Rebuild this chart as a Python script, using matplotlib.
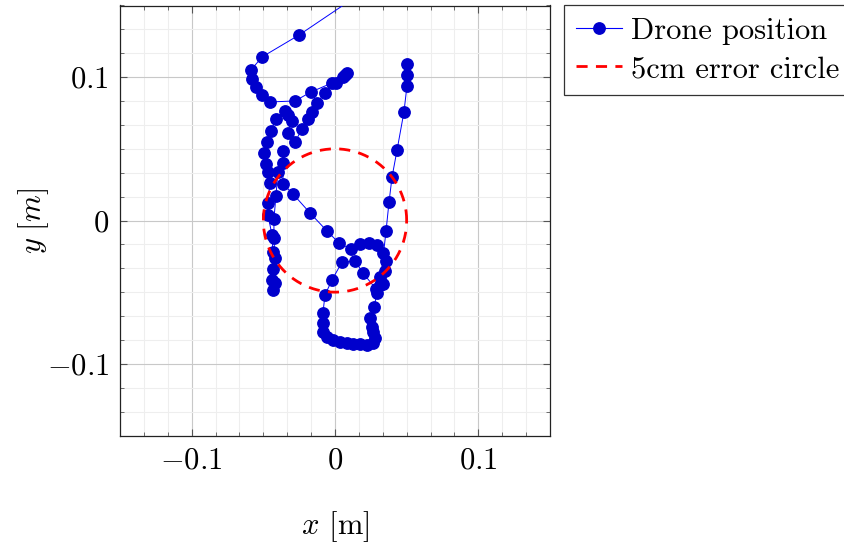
import numpy as np
import matplotlib
matplotlib.use("Agg")
import matplotlib.pyplot as plt
from matplotlib.ticker import MultipleLocator, FixedLocator
from matplotlib.lines import Line2D

plt.rcParams['mathtext.fontset'] = 'cm'
plt.rcParams['font.family'] = 'serif'
plt.rcParams['font.serif'] = ['cmr10', 'DejaVu Serif']
plt.rcParams['axes.formatter.use_mathtext'] = True

# Drone trajectory (m)
x_pos = [0.050, -0.0251, -0.0509, -0.0586, -0.0579, -0.0551, -0.0509, -0.0454, -0.0279, -0.0167,
         -0.0021, 0.0007, 0.0056, 0.0070, 0.0084,
         -0.0070, -0.0126, -0.0160, -0.0188, -0.0230, -0.0279, -0.0328, -0.0300, -0.0328, -0.0349,
         -0.0412, -0.0447, -0.0474, -0.0495, -0.0481, -0.0467, -0.0454, -0.0467, -0.0467, -0.0440,
         -0.0433, -0.0433, -0.0440, -0.0433,
         -0.0419, -0.0419, -0.0426, -0.0426, -0.0412, -0.0398, -0.0363, -0.0363, -0.0363,
         -0.0293, -0.0174, -0.0056, 0.0028, 0.0112, 0.0174, 0.0237, 0.0293, 0.0335, 0.0356,
         0.0349, 0.0314, 0.0335, 0.0286, 0.0195, 0.0140, 0.0049, -0.0021, -0.0070, -0.0084,
         -0.0084, -0.0084, -0.0056, -0.0014, 0.0035, 0.0084, 0.0126, 0.0174, 0.0223, 0.0265,
         0.0279, 0.0265, 0.0258, 0.0244, 0.0272, 0.0293, 0.0314, 0.0356, 0.0377, 0.0398,
         0.0433, 0.0481, 0.0502, 0.0502, 0.0502]
y_pos = [0.180, 0.1294, 0.1141, 0.1050, 0.0987, 0.0931, 0.0876, 0.0827, 0.0834, 0.0897,
         0.0959, 0.0959, 0.1001, 0.1015, 0.1029,
         0.0890, 0.0820, 0.0757, 0.0708, 0.0638, 0.0548, 0.0610, 0.0694, 0.0736, 0.0764,
         0.0708, 0.0624, 0.0548, 0.0471, 0.0394, 0.0338, 0.0262, 0.0122, 0.0038, -0.0101,
         -0.0220, -0.0338, -0.0415, -0.0485,
         -0.0436, -0.0262, -0.0122, 0.0010, 0.0171, 0.0338, 0.0401, 0.0485, 0.0255,
         0.0185, 0.0052, -0.0073, -0.0157, -0.0199, -0.0164, -0.0157, -0.0171, -0.0227, -0.0283,
         -0.0352, -0.0394, -0.0443, -0.0478, -0.0366, -0.0283, -0.0290, -0.0415, -0.0520, -0.0645,
         -0.0715, -0.0778, -0.0813, -0.0834, -0.0848, -0.0855, -0.0862, -0.0862, -0.0869, -0.0855,
         -0.0820, -0.0778, -0.0743, -0.0680, -0.0604, -0.0506, -0.0450, -0.0073, 0.0129, 0.0304,
         0.0492, 0.0757, 0.0938, 0.1015, 0.1092]

circle_radius = 0.05
x_ticks = [-0.1, 0.0, 0.1]
y_ticks = [-0.1, 0.0, 0.1]
tick_labels = ['$-0.1$', '$0$', '$0.1$']
legend_labels = ['Drone position', '5cm error circle']

FS = 22
fig = plt.figure(figsize=(8.44, 5.47), dpi=100)
ax = fig.add_axes([120/844, 1-435.5/547, 430/844, 430/547])

theta = np.linspace(0, 2*np.pi, 400)
ax.plot(x_pos, y_pos, '-', color='blue', lw=0.7, marker='o', markersize=8.2,
        markerfacecolor='#0000cc', markeredgecolor='#0000cc', zorder=3)
ax.plot(circle_radius*np.cos(theta), circle_radius*np.sin(theta), color='red',
        lw=2.0, dashes=(4, 3), zorder=4)

ax.set_xlim(-0.15, 0.15)
ax.set_ylim(-0.15, 0.15)
ax.xaxis.set_major_locator(FixedLocator(x_ticks))
ax.yaxis.set_major_locator(FixedLocator(y_ticks))
ax.xaxis.set_minor_locator(MultipleLocator(0.1/6))
ax.yaxis.set_minor_locator(MultipleLocator(0.1/6))
ax.set_xticklabels(tick_labels)
ax.set_yticklabels(tick_labels)
ax.grid(which='major', color='#c8c8c8', lw=0.8)
ax.grid(which='minor', color='#eeeeee', lw=0.8)
ax.set_axisbelow(True)
ax.tick_params(which='both', direction='in', top=True, right=True, colors='#555555',
               labelcolor='black', labelsize=FS)
ax.tick_params(which='major', length=5, width=0.8, pad=8)
ax.tick_params(which='minor', length=3, width=0.6)
for s in ax.spines.values():
    s.set_linewidth(0.9)
    s.set_color('#222222')

ax.set_xlabel('$x$ [m]', fontsize=FS, labelpad=25)
ax.set_ylabel('$y\\ [m]$', fontsize=FS, labelpad=-3)

handles = [Line2D([0], [0], color='blue', lw=0.8, marker='o', markersize=8.2,
                  markerfacecolor='#0000cc', markeredgecolor='#0000cc'),
           Line2D([0], [0], color='red', lw=2.0, dashes=(4, 3))]
leg = fig.legend(handles, legend_labels, loc='upper left', bbox_to_anchor=(564/844, 1-5/547),
                 fontsize=FS, frameon=True, fancybox=False, edgecolor='black',
                 handlelength=1.5, handletextpad=0.3, borderpad=0.4, labelspacing=0.36,
                 borderaxespad=0)
leg.get_frame().set_linewidth(0.9)

fig.savefig('out.png', dpi=100)
